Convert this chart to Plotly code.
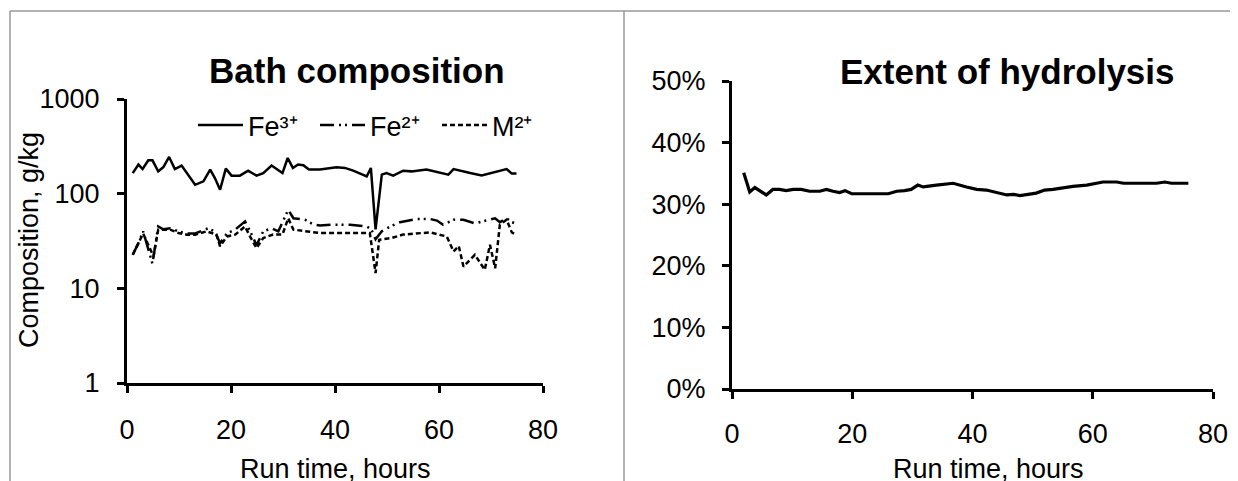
import plotly.graph_objects as go

# ---------------- data ----------------
hours_fe3 = [1.1, 2.2, 3.0, 4.1, 4.9, 6.0, 7.0, 8.1, 9.2, 10.5, 13.1, 14.7, 16.0, 16.9, 17.9,
             19.0, 20.1, 21.7, 23.3, 24.9, 26.2, 27.8, 29.9, 30.9, 31.9, 32.9, 33.9, 35.0,
             37.1, 38.7, 40.3, 41.9, 43.5, 46.1, 46.9, 47.8, 49.0, 49.9, 51.2, 53.1, 54.7,
             57.6, 59.2, 61.8, 62.8, 64.4, 66.0, 68.2, 69.2, 70.8, 71.7, 73.0, 74.0, 74.9]
fe3 = [165, 203, 182, 225, 225, 172, 191, 244, 182, 198, 124, 135, 179, 146, 110,
       184, 155, 155, 175, 155, 165, 198, 165, 238, 187, 203, 200, 180,
       180, 184, 190, 187, 175, 152, 187, 42, 159, 165, 155, 175, 172,
       180, 172, 159, 182, 172, 165, 156, 161, 168, 172, 182, 163, 163]

hours_fe2 = [1.1, 2.2, 3.1, 4.9, 6.0, 7.0, 8.3, 9.9, 11.5, 13.1, 15.6, 16.9, 17.9, 19.2,
             20.8, 22.7, 23.7, 24.9, 26.2, 27.8, 29.1, 31.0, 32.0, 34.2, 35.8, 37.1, 39.6,
             42.9, 46.1, 47.0, 47.8, 49.0, 50.9, 52.5, 55.7, 58.3, 59.6, 60.8, 62.8, 64.7,
             66.9, 68.8, 70.8, 71.7, 73.0, 74.0, 74.9]
fe2 = [22.6, 30, 40, 18.2, 45, 42, 43, 40, 38, 38, 43, 40, 30, 38,
       41.7, 51, 40, 28.5, 40, 43, 40, 67.5, 55, 53, 47.5, 46, 47,
       47, 45, 42, 33, 40, 45.8, 50, 54, 54, 52, 47, 53, 53,
       48.6, 52, 55, 50, 55, 50, 48]

hours_m2 = [1.1, 2.2, 3.1, 5.1, 6.0, 8.3, 9.9, 11.5, 13.1, 15.3, 17.2, 17.9, 19.2, 20.8,
            22.7, 23.7, 24.9, 26.2, 28.1, 29.9, 31.0, 32.0, 34.6, 37.1, 42.9, 46.7, 47.8,
            48.5, 50.9, 53.1, 58.3, 60.0, 61.5, 62.8, 63.8, 64.7, 66.9, 68.8, 69.8, 70.8,
            71.7, 73.0, 74.0, 74.9]
m2 = [22.6, 30, 38, 21.7, 41.7, 41.7, 38.4, 36.9, 36.9, 40, 37, 27.8, 35.3, 36.9,
      45, 35, 26.6, 34, 37, 37, 55, 41.7, 40, 38.4, 38.4, 38.4, 14.5,
      32.6, 34, 37, 39, 37, 35.3, 24.5, 28, 17, 22.6, 15.7, 28.9, 16.3,
      47, 53, 39, 36.8]

hours_h = [1.95, 2.95, 3.8, 4.6, 5.7, 6.8, 7.9, 9.0, 10.2, 11.5, 12.9, 14.6, 15.7, 16.8,
           17.9, 18.8, 19.9, 26.0, 27.4, 28.7, 29.8, 30.9, 31.8, 34.0, 36.8, 39.0, 40.7,
           42.3, 45.7, 46.8, 47.9, 50.6, 52.0, 53.4, 56.7, 59.0, 61.7, 64.0, 65.1, 70.6,
           72.0, 73.1, 75.9]
hydrolysis_pct = [35.1, 32.0, 32.7, 32.2, 31.5, 32.4, 32.4, 32.2, 32.4, 32.4, 32.1, 32.1, 32.4,
                  32.1, 31.9, 32.2, 31.7, 31.7, 32.1, 32.2, 32.4, 33.1, 32.8, 33.1, 33.4, 32.8,
                  32.4, 32.3, 31.5, 31.6, 31.4, 31.8, 32.3, 32.4, 32.9, 33.1, 33.6, 33.6, 33.4,
                  33.4, 33.6, 33.4, 33.4]

x_ticks = [0, 20, 40, 60, 80]
log_ticks = [1, 10, 100, 1000]
pct_ticks = [0, 0.1, 0.2, 0.3, 0.4, 0.5]

# ---------------- figure ----------------
PAGE_W, PAGE_H = 1238, 481
OFF = 8  # default page body margin
W, H = PAGE_W - OFF, PAGE_H - OFF
FONT = "Arial, Liberation Sans, sans-serif"

def px_x(p):
    return (p - OFF) / W

def px_y(p):
    return 1 - (p - OFF) / H

fig = go.Figure()

fig.add_trace(go.Scatter(x=hours_fe3, y=fe3, mode="lines", name="Fe³⁺",
                         line=dict(color="black", width=2.5), xaxis="x", yaxis="y"))
fig.add_trace(go.Scatter(x=hours_fe2, y=fe2, mode="lines", name="Fe²⁺",
                         line=dict(color="black", width=2.5, dash="14px,5px,2px,4px,2px,5px"),
                         xaxis="x", yaxis="y"))
fig.add_trace(go.Scatter(x=hours_m2, y=m2, mode="lines", name="M²⁺",
                         line=dict(color="black", width=2.5, dash="5px,3px"), xaxis="x", yaxis="y"))
fig.add_trace(go.Scatter(x=hours_h, y=[v / 100 for v in hydrolysis_pct], mode="lines",
                         showlegend=False, line=dict(color="black", width=3.2),
                         xaxis="x2", yaxis="y2"))

axis_common = dict(showline=True, linecolor="black", linewidth=3, ticks="outside",
                   ticklen=7, tickwidth=3, tickcolor="black", showgrid=False, zeroline=False,
                   automargin=False,
                   tickfont=dict(family=FONT, size=27, color="black"))

fig.update_layout(
    template="none",
    width=W, height=H, autosize=False,
    margin=dict(l=0, r=0, t=0, b=0, pad=0, autoexpand=False),
    paper_bgcolor="white", plot_bgcolor="white",
    font=dict(family=FONT, color="black"),
    xaxis=dict(domain=[px_x(127), px_x(543)], range=[0, 80], tickvals=x_ticks,
               anchor="y", ticklabelstandoff=14, **axis_common),
    yaxis=dict(domain=[px_y(383), px_y(99)], type="log", range=[0, 3], tickvals=log_ticks,
               ticktext=[str(v) for v in log_ticks], anchor="x", ticklabelstandoff=12,
               **axis_common),
    xaxis2=dict(domain=[px_x(732), px_x(1213)], range=[0, 80], tickvals=x_ticks,
                anchor="y2", ticklabelstandoff=12, **axis_common),
    yaxis2=dict(domain=[px_y(389), px_y(81)], range=[0, 0.5], tickvals=pct_ticks,
                tickformat=".0%", anchor="x2", ticklabelstandoff=11, **axis_common),
    legend=dict(orientation="h", x=px_x(193), y=px_y(101), xanchor="left", yanchor="top",
                font=dict(family=FONT, size=27, color="black"), bgcolor="rgba(0,0,0,0)",
                entrywidth=62, entrywidthmode="pixels", itemwidth=45,
                tracegroupgap=0, borderwidth=0),
    showlegend=True,
)

ann_font = dict(family=FONT, size=27, color="black")
title_font = dict(family=FONT, size=35, color="black")
fig.add_annotation(text="<b>Bath composition</b>", x=px_x(357), y=px_y(70), xref="paper",
                   yref="paper", showarrow=False, font=title_font, xanchor="center", yanchor="middle")
fig.add_annotation(text="<b>Extent of hydrolysis</b>", x=px_x(1007), y=px_y(72), xref="paper",
                   yref="paper", showarrow=False, font=title_font, xanchor="center", yanchor="middle")
fig.add_annotation(text="Run time, hours", x=px_x(335), y=px_y(469), xref="paper", yref="paper",
                   showarrow=False, font=ann_font, xanchor="center", yanchor="middle")
fig.add_annotation(text="Run time, hours", x=px_x(988), y=px_y(469), xref="paper", yref="paper",
                   showarrow=False, font=ann_font, xanchor="center", yanchor="middle")
fig.add_annotation(text="Composition, g/kg", x=px_x(29), y=px_y(240), xref="paper", yref="paper",
                   showarrow=False, font=ann_font, textangle=-90, xanchor="center", yanchor="middle")

border = dict(color="#999999", width=1.5)
fig.add_shape(type="line", xref="paper", yref="paper", x0=px_x(10), x1=1, y0=px_y(11), y1=px_y(11), line=border)
fig.add_shape(type="line", xref="paper", yref="paper", x0=px_x(10), x1=px_x(10), y0=px_y(11), y1=0, line=border)
fig.add_shape(type="line", xref="paper", yref="paper", x0=px_x(624), x1=px_x(624), y0=px_y(11), y1=0, line=border)

fig.write_html("out.html", config={"displayModeBar": False})
